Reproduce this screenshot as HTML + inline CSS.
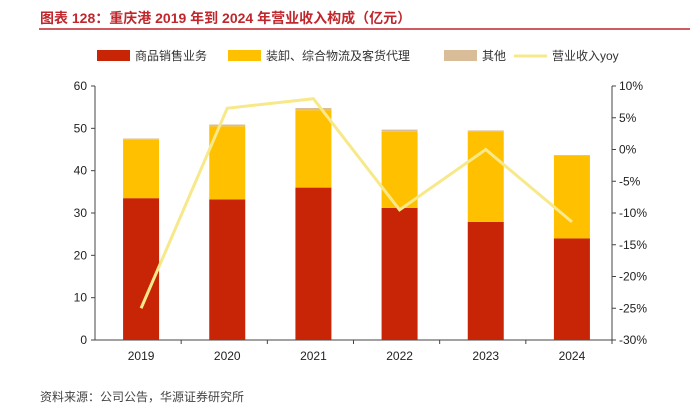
<!DOCTYPE html>
<html><head><meta charset="utf-8"><style>
body{margin:0;background:#fff;width:696px;height:408px;overflow:hidden;font-family:"Liberation Sans","Noto Sans CJK SC",sans-serif}
</style></head><body>
<svg width="696" height="408" xmlns="http://www.w3.org/2000/svg" font-family="Liberation Sans, Noto Sans CJK SC, sans-serif">
<text x="40" y="23" font-size="14" font-weight="bold" fill="#c0272d">图表 128：重庆港 2019 年到 2024 年营业收入构成（亿元）</text>
<line x1="39" y1="29" x2="690" y2="29" stroke="#c0272d" stroke-width="1.5"/>
<g id="legend" font-size="12" fill="#333">
<rect x="97" y="50" width="33" height="11" fill="#c82506"/><text x="135" y="60">商品销售业务</text>
<rect x="228" y="50" width="33" height="11" fill="#ffc000"/><text x="266" y="60">装卸、综合物流及客货代理</text>
<rect x="444" y="50" width="33" height="11" fill="#d9bd98"/><text x="482" y="60">其他</text>
<line x1="514" y1="56" x2="547" y2="56" stroke="#f7e98a" stroke-width="3"/><text x="552" y="60">营业收入yoy</text>
</g>
<g id="axes"></g>
<g id="bars"></g>
<g id="line"></g>
<text x="40" y="401" font-size="12" fill="#444">资料来源：公司公告，华源证券研究所</text>
</svg>
<script>
const categories=["2019","2020","2021","2022","2023","2024"];
const sales=[33.5,33.2,36.0,31.2,27.9,24.0];
const handling=[13.8,17.3,18.3,18.0,21.4,19.5];
const other=[0.3,0.4,0.5,0.5,0.2,0.2];
const yoy=[-25,6.5,8,-9.5,0,-11.4];
const leftTicks=[0,10,20,30,40,50,60];
const rightTicks=[10,5,0,-5,-10,-15,-20,-25,-30];
const NS="http://www.w3.org/2000/svg";
const X0=95,X1=612,Y0=340,Y1=86;
const yL=v=>Y0-(v/60)*(Y0-Y1);
const yR=v=>Y0-((v+30)/40)*(Y0-Y1);
const step=(X1-X0)/categories.length;
const xc=i=>X0+3+step*(i+0.5);
function mk(tag,attrs,parent){const e=document.createElementNS(NS,tag);for(const k in attrs)e.setAttribute(k,attrs[k]);parent.appendChild(e);return e;}
const ax=document.getElementById('axes');
mk('line',{x1:X0,y1:Y1,x2:X0,y2:Y0,stroke:'#444'},ax);
mk('line',{x1:X1,y1:Y1,x2:X1,y2:Y0,stroke:'#444'},ax);
const xa=mk('line',{x1:X0,y1:Y0,x2:X1,y2:Y0,stroke:'#444'},ax);

leftTicks.forEach(v=>{
 mk('line',{x1:X0-4,y1:yL(v),x2:X0,y2:yL(v),stroke:'#444'},ax);
 const t=mk('text',{x:X0-8,y:yL(v)+4,'font-size':12,'text-anchor':'end',fill:'#222'},ax);t.textContent=v;
 
 
});
rightTicks.forEach(v=>{
 mk('line',{x1:X1,y1:yR(v),x2:X1+4,y2:yR(v),stroke:'#444'},ax);
 const t=mk('text',{x:X1+7,y:yR(v)+4,'font-size':12,fill:'#222'},ax);t.textContent=v+'%';
 
 
});
const bg=document.getElementById('bars');const bw=36;
categories.forEach((c,i)=>{
 mk('line',{x1:X0+step*(i+1),y1:Y0,x2:X0+step*(i+1),y2:Y0+4,stroke:'#444'},ax);
 const t=mk('text',{x:xc(i),y:Y0+20,'font-size':12,'text-anchor':'middle',fill:'#222'},ax);t.textContent=c;
 
 
 const a=sales[i],b=a+handling[i],d=b+other[i];
 const r1=mk('rect',{x:xc(i)-bw/2,y:yL(a),width:bw,height:yL(0)-yL(a),fill:'#c82506'},bg);
 
 
 const r2=mk('rect',{x:xc(i)-bw/2,y:yL(b),width:bw,height:yL(a)-yL(b),fill:'#ffc000'},bg);
 
 
 const r3=mk('rect',{x:xc(i)-bw/2,y:yL(d),width:bw,height:yL(b)-yL(d),fill:'#d9bd98'},bg);
 
 
});
const pl=mk('polyline',{points:yoy.map((v,i)=>xc(i)+','+yR(v)).join(' '),fill:'none',stroke:'#f7e98a','stroke-width':3},document.getElementById('line'));


</script>
</body></html>
